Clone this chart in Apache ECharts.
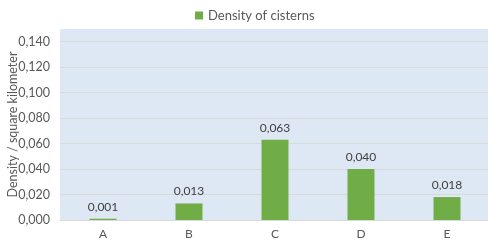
<!DOCTYPE html>
<html>
<head>
<meta charset="utf-8">
<script src="https://cdn.jsdelivr.net/npm/echarts@6/dist/echarts.min.js"></script>
<style>
  html, body { margin: 0; padding: 0; background: #fff; }
  #chart { width: 488px; height: 240px; }
</style>
</head>
<body>
<div id="chart"></div>
<script>
const categories = ["A", "B", "C", "D", "E"];
const densityValues = [0.001, 0.013, 0.063, 0.040, 0.018];
const seriesName = "Density of cisterns";
const yAxisName = "Density / square kilometer";

const fmt = (v, d) => v.toFixed(d).replace(".", ",");

const chart = echarts.init(document.getElementById("chart"));
chart.setOption({
  animation: false,
  textStyle: { fontFamily: "Lato" },
  legend: {
    top: 4,
    left: 190,
    itemWidth: 8,
    itemHeight: 8,
    icon: "rect",
    itemGap: 6,
    textStyle: { fontSize: 13, color: "#595959" },
    data: [seriesName]
  },
  grid: {
    left: 60,
    right: -2,
    top: 29,
    bottom: 20,
    outerBoundsMode: "none",
    show: true,
    backgroundColor: "#dee8f5",
    borderWidth: 0
  },
  xAxis: {
    type: "category",
    data: categories,
    axisLine: { lineStyle: { color: "#d9d9d9" } },
    axisTick: { show: false },
    axisLabel: { color: "#595959", fontSize: 12, margin: 8 }
  },
  yAxis: {
    type: "value",
    min: 0,
    max: 0.15,
    interval: 0.02,
    name: yAxisName,
    nameLocation: "middle",
    nameGap: 41,
    nameMoveOverlap: false,
    nameTextStyle: { color: "#595959", fontSize: 12.5 },
    axisLine: { show: false },
    axisTick: { show: false },
    axisLabel: {
      color: "#595959",
      fontSize: 12.5,
      margin: 10,
      showMaxLabel: false,
      formatter: v => (v > 0.141 ? "" : fmt(v, 3))
    },
    splitLine: {
      lineStyle: {
        color: ["#d9d9d9", "#d9d9d9", "#d9d9d9", "#d9d9d9", "#d9d9d9",
                "#d9d9d9", "#d9d9d9", "#d9d9d9", "#dee8f5"]
      }
    }
  },
  series: [{
    name: seriesName,
    type: "bar",
    data: densityValues,
    barWidth: 27,
    itemStyle: { color: "#70ad47" },
    label: {
      show: true,
      position: "top",
      distance: 6,
      color: "#404040",
      fontSize: 12,
      formatter: p => fmt(p.value, 3)
    }
  }]
});
</script>
</body>
</html>
